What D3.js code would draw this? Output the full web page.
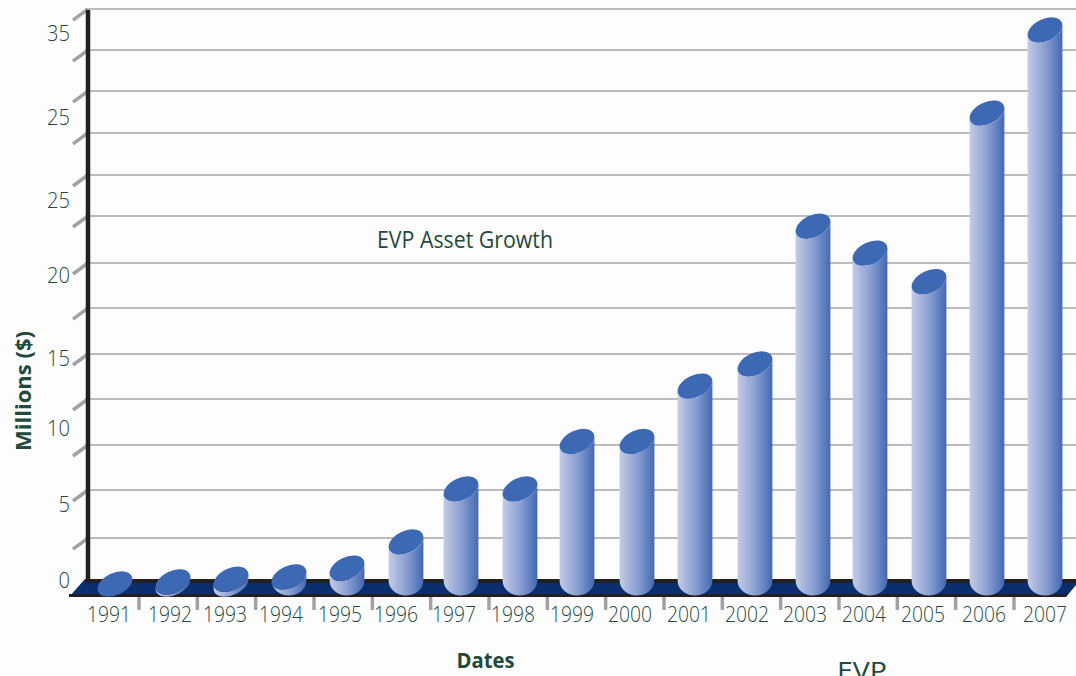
<!DOCTYPE html>
<html>
<head>
<meta charset="utf-8">
<title>EVP Asset Growth</title>
<script src="https://cdn.jsdelivr.net/npm/d3@7"></script>
<style>
  html, body { margin: 0; padding: 0; background: #fdfdfd; overflow: hidden; }
  text { font-family: "Open Sans", sans-serif; fill: #1f4a3c; }
</style>
</head>
<body>
<div id="chart"></div>
<script>
var years = [1991, 1992, 1993, 1994, 1995, 1996, 1997, 1998, 1999, 2000, 2001, 2002, 2003, 2004, 2005, 2006, 2007];
var assets = [0, 0.13, 0.3, 0.45, 1.0, 2.65, 6.0, 6.0, 9.0, 9.0, 12.5, 13.9, 22.6, 20.9, 19.1, 29.75, 35];
// the printed axis really does say 25 twice
var tickLabels = ["0", "5", "10", "15", "20", "25", "25", "35"];
var gridValues = [2.9, 5.94, 8.78, 11.69, 14.53, 17.43, 20.28, 23.25, 25.84, 28.5, 31.14, 33.73, 36.32];

var svgWidth = 1076;
var svgHeight = 676;

var svg = d3.select("#chart")
  .append("svg")
  .attr("width", svgWidth)
  .attr("height", svgHeight)
  .style("display", "block");

// columns are not perfectly evenly spaced in the original
var xScale = d3.scaleLinear()
  .domain(years)
  .range([115, 173, 231, 289, 347, 406, 461, 520, 577, 637, 695, 755, 813, 870, 929, 987, 1045]);
var yScale = d3.scaleLinear().domain([0, 35]).range([584, 30]);

// labels were hand placed in the original, so they don't sit on the ticks
var xLabelScale = d3.scaleLinear()
  .domain(years)
  .range([109, 170, 225, 281, 340, 396, 454, 513, 572, 630, 689, 747, 805, 864, 923, 984, 1045]);
var yLabelPos = d3.scaleLinear().domain(d3.range(8)).range([580, 504, 428, 358, 275, 200, 117, 33]);
var xTickScale = d3.scaleLinear().domain([0, 15]).range([139, 1014]);

var defs = svg.append("defs");
var grad = defs.append("linearGradient").attr("id", "barFill");
grad.append("stop").attr("offset", "0%").attr("stop-color", "#c3cbe7");
grad.append("stop").attr("offset", "50%").attr("stop-color", "#8b9fd2");
grad.append("stop").attr("offset", "100%").attr("stop-color", "#4369b3");

// gridlines and slanted ticks
var grid = svg.append("g");
grid.selectAll("line.grid")
  .data(gridValues)
  .enter().append("line")
  .attr("class", "grid")
  .attr("x1", 85).attr("x2", svgWidth)
  .attr("y1", d => yScale(d)).attr("y2", d => yScale(d))
  .attr("stroke", "#bcbcc0").attr("stroke-width", 2);

grid.selectAll("line.tick")
  .data(gridValues)
  .enter().append("line")
  .attr("class", "tick")
  .attr("x1", 73).attr("x2", 88)
  .attr("y1", d => yScale(d) + 11).attr("y2", d => yScale(d))
  .attr("stroke", "#a2a2a6").attr("stroke-width", 3.5);

// y axis
svg.append("line")
  .attr("x1", 88).attr("x2", 88)
  .attr("y1", 10).attr("y2", 582)
  .attr("stroke", "#231f20").attr("stroke-width", 4.5);

// floor
svg.append("path")
  .attr("d", "M85,579 H1076 V585 L1066,597 H69 Z")
  .attr("fill", "#0b2f6e");
svg.append("path")
  .attr("d", "M85,579 H1076 V583 H85 Z")
  .attr("fill", "#231f20");
svg.append("path")
  .attr("d", "M69,594 H1068 L1066,597 H69 Z")
  .attr("fill", "#231f20");

// x ticks
svg.selectAll("line.xtick")
  .data(d3.range(16))
  .enter().append("line")
  .attr("class", "xtick")
  .attr("x1", d => xTickScale(d)).attr("x2", d => xTickScale(d))
  .attr("y1", 597).attr("y2", 610)
  .attr("stroke", "#a2a2a6").attr("stroke-width", 3.5);

// cylinders
var rx = 18.5, ry = 11, tilt = -25;
var rad = tilt * Math.PI / 180;
var halfW = Math.sqrt(rx * rx * Math.cos(rad) * Math.cos(rad) + ry * ry * Math.sin(rad) * Math.sin(rad));
var dy = (rx * rx - ry * ry) * Math.abs(Math.sin(rad) * Math.cos(rad)) / halfW;

function bodyPath(year, value) {
  var cx = xScale(year), top = yScale(value), base = yScale(0);
  // tall columns end in a round foot, the very short ones keep the tilted disc
  var bottom;
  if (top + dy < base - 2) {
    bottom = " L" + (cx - halfW) + "," + (base - 3) +
      " A" + halfW + " 15 0 0 0 " + (cx + halfW) + "," + (base - 4);
  } else {
    bottom = " L" + (cx - halfW) + "," + (base + dy) +
      " A" + rx + " " + ry + " " + tilt + " 0 0 " + (cx + halfW) + "," + (base - dy);
  }
  return "M" + (cx - halfW) + "," + (top + dy) + bottom +
    " L" + (cx + halfW) + "," + (top - dy) +
    " A" + rx + " " + ry + " " + tilt + " 0 1 " + (cx - halfW) + "," + (top + dy) + " Z";
}

var bars = svg.selectAll("g.bar")
  .data(years)
  .enter().append("g")
  .attr("class", "bar");

bars.append("path")
  .attr("d", (d, i) => bodyPath(d, assets[i]))
  .attr("fill", "url(#barFill)");

bars.append("ellipse")
  .attr("rx", rx).attr("ry", ry)
  .attr("transform", (d, i) => `translate(${xScale(d)},${yScale(assets[i])}) rotate(${tilt})`)
  .attr("fill", "#3d68b4");

// labels
svg.selectAll("text.xlab")
  .data(years)
  .enter().append("text")
  .attr("class", "xlab")
  .attr("x", d => xLabelScale(d))
  .attr("y", 622)
  .attr("text-anchor", "middle")
  .style("font-size", "22px")
  .style("font-weight", 300)
  .attr("textLength", 44)
  .attr("lengthAdjust", "spacingAndGlyphs")
  .text(d => d);

svg.selectAll("text.ylab")
  .data(tickLabels)
  .enter().append("text")
  .attr("class", "ylab")
  .attr("x", 70)
  .attr("y", (d, i) => yLabelPos(i) + 8)
  .attr("text-anchor", "end")
  .style("font-size", "22px")
  .style("font-weight", 300)
  .attr("textLength", d => d.length * 11.5)
  .attr("lengthAdjust", "spacingAndGlyphs")
  .text(d => d);

svg.append("text")
  .attr("x", 377).attr("y", 248)
  .style("font-size", "24px")
  .attr("textLength", 176)
  .attr("lengthAdjust", "spacingAndGlyphs")
  .text("EVP Asset Growth");

svg.append("text")
  .attr("transform", "translate(31,391) rotate(-90)")
  .attr("text-anchor", "middle")
  .style("font-size", "21px")
  .style("font-weight", 700)
  .attr("textLength", 120)
  .attr("lengthAdjust", "spacingAndGlyphs")
  .text("Millions ($)");

svg.append("text")
  .attr("x", 485.5).attr("y", 668)
  .attr("text-anchor", "middle")
  .style("font-size", "21px")
  .style("font-weight", 700)
  .attr("textLength", 58)
  .attr("lengthAdjust", "spacingAndGlyphs")
  .text("Dates");

svg.append("text")
  .attr("x", 862).attr("y", 680)
  .attr("text-anchor", "middle")
  .style("font-size", "26px")
  .attr("textLength", 50)
  .attr("lengthAdjust", "spacingAndGlyphs")
  .text("EVP");
</script>
</body>
</html>
